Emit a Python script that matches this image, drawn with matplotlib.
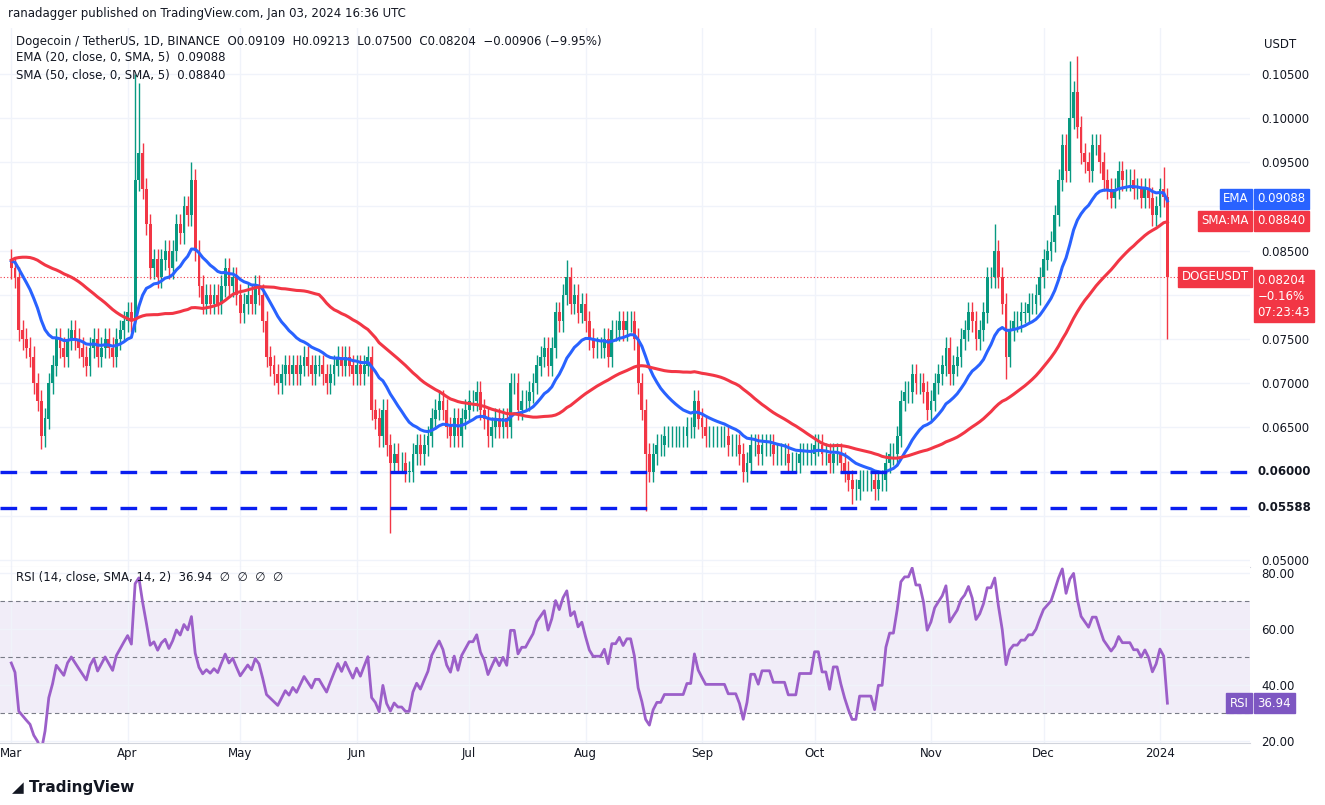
import numpy as np
import pandas as pd
import matplotlib
matplotlib.use("Agg")
import matplotlib.pyplot as plt
import matplotlib.dates as mdates

warmup = [0.070,0.071,0.072,0.073,0.074,0.075,0.076,0.077,0.078,0.079,0.080,0.082,0.083,0.084,0.085,0.084,0.086,0.087,0.088,0.089,
          0.090,0.091,0.092,0.091,0.090,0.092,0.093,0.092,0.091,0.090,0.089,0.088,0.087,0.086,0.085,0.084,0.083,0.082,0.083,0.082,
          0.081,0.082,0.083,0.084,0.083,0.082,0.083,0.084,0.083,0.084]
closes = [
 # Mar
 0.083,0.082,0.076,0.075,0.074,0.073,0.070,0.068,0.064,0.066,0.070,0.072,0.075,0.074,0.073,0.075,0.076,0.075,0.074,0.073,0.072,0.074,0.075,0.073,0.074,0.075,0.074,0.073,0.075,0.076,0.077,
 # Apr
 0.078,0.077,0.093,0.096,0.092,0.088,0.083,0.084,0.082,0.084,0.085,0.083,0.085,0.088,0.087,0.090,0.089,0.093,0.085,0.081,0.079,0.080,0.079,0.080,0.079,0.081,0.083,0.081,0.082,0.080,
 # May
 0.078,0.079,0.080,0.079,0.081,0.080,0.077,0.073,0.072,0.071,0.070,0.071,0.072,0.071,0.072,0.071,0.072,0.073,0.072,0.071,0.072,0.072,0.071,0.070,0.071,0.072,0.073,0.072,0.073,0.072,0.071,
 # Jun
 0.072,0.071,0.072,0.073,0.067,0.066,0.064,0.067,0.063,0.061,0.062,0.061,0.061,0.060,0.060,0.062,0.063,0.062,0.063,0.064,0.066,0.067,0.068,0.067,0.065,0.064,0.066,0.064,0.066,0.067,
 # Jul
 0.068,0.068,0.069,0.067,0.066,0.064,0.065,0.066,0.065,0.066,0.065,0.070,0.070,0.067,0.068,0.068,0.069,0.070,0.072,0.073,0.074,0.072,0.074,0.078,0.077,0.080,0.082,0.079,0.080,0.078,0.079,
 # Aug
 0.077,0.075,0.074,0.074,0.074,0.075,0.073,0.076,0.076,0.077,0.076,0.077,0.077,0.075,0.070,0.067,0.062,0.060,0.062,0.063,0.063,0.064,0.064,0.064,0.064,0.064,0.064,0.065,0.065,0.068,0.066,
 # Sep
 0.065,0.064,0.064,0.064,0.064,0.064,0.064,0.063,0.063,0.063,0.062,0.060,0.061,0.063,0.063,0.062,0.063,0.063,0.063,0.062,0.062,0.062,0.062,0.061,0.061,0.061,0.062,0.062,0.062,0.062,
 # Oct
 0.063,0.063,0.062,0.062,0.061,0.062,0.062,0.061,0.060,0.059,0.058,0.058,0.059,0.059,0.059,0.059,0.058,0.059,0.059,0.061,0.062,0.062,0.064,0.068,0.069,0.069,0.071,0.070,0.070,0.069,0.067,
 # Nov
 0.068,0.070,0.071,0.072,0.074,0.071,0.072,0.073,0.075,0.076,0.078,0.077,0.075,0.076,0.078,0.082,0.082,0.085,0.082,0.079,0.073,0.076,0.077,0.077,0.078,0.078,0.079,0.079,0.080,0.082,
 # Dec
 0.084,0.085,0.086,0.089,0.093,0.097,0.094,0.100,0.103,0.099,0.096,0.095,0.094,0.097,0.097,0.095,0.093,0.092,0.091,0.092,0.094,0.093,0.093,0.093,0.092,0.092,0.091,0.092,0.091,0.089,0.090,
 # Jan
 0.092,0.09109,0.08204]
high_over = {"2023-04-03":0.105,"2023-04-04":0.104,"2023-04-18":0.095,"2023-07-27":0.084,"2023-11-18":0.088,
             "2023-12-08":0.1065,"2023-12-10":0.107,"2024-01-03":0.09213,"2024-01-02":0.0945}
low_over = {"2023-03-09":0.0625,"2023-06-10":0.053,"2023-08-17":0.0555,"2023-10-11":0.0563,"2024-01-03":0.0750,"2023-11-21":0.0705}
sr_levels = [0.06, 0.05588]
month_labels = ["Mar","Apr","May","Jun","Jul","Aug","Sep","Oct","Nov","Dec","2024"]

dates_all = pd.date_range(end="2024-01-03", periods=len(warmup)+len(closes), freq="D")
s = pd.Series(warmup+closes, index=dates_all)
ema = s.ewm(span=20, adjust=False).mean()
sma = s.rolling(50, min_periods=1).mean()
d = s.diff()
up = d.clip(lower=0).ewm(alpha=1/14, adjust=False).mean()
dn = (-d.clip(upper=0)).ewm(alpha=1/14, adjust=False).mean()
rsi = 100 - 100/(1+up/dn)

n0 = len(warmup)
dates = dates_all[n0:]
c = np.array(closes)
o = np.array([s.iloc[n0-1]] + closes[:-1])
hi = np.maximum(o, c) + 0.0012
lo = np.minimum(o, c) - 0.0012
for k, v in high_over.items():
    hi[dates.get_loc(pd.Timestamp(k))] = v
for k, v in low_over.items():
    lo[dates.get_loc(pd.Timestamp(k))] = v

UP, DN = "#089981", "#f23645"
fig = plt.figure(figsize=(13.25, 8.05), dpi=100)
W, H = 1325, 805
ax = fig.add_axes([0, 1-567/H, 1250/W, (567-28)/H])
ax2 = fig.add_axes([0, 1-743/H, 1250/W, (743-567)/H], sharex=ax)
xn = mdates.date2num(dates)
cols = np.where(c >= o, UP, DN)
ax.vlines(xn, lo, hi, colors=cols, lw=1, zorder=2)
ax.bar(xn, np.abs(c-o)+1e-5, bottom=np.minimum(o, c), width=0.75, color=cols, zorder=3)
ax.plot(xn, ema.values[n0:], color="#2962ff", lw=2.2, zorder=4)
ax.plot(xn, sma.values[n0:], color="#f23645", lw=2.2, zorder=4)
for lv in sr_levels:
    ax.axhline(lv, color="#0a1ef0", lw=2.4, ls=(0, (5, 4)), zorder=5)
ax.axhline(c[-1], color=DN, lw=0.8, ls=(0, (1, 2)))
ax.set_ylim(0.0492, 0.1102)
xmin = mdates.date2num(pd.Timestamp("2023-02-26"))
xmax = mdates.date2num(pd.Timestamp("2024-01-25"))
ax.set_xlim(xmin, xmax)
ax.yaxis.tick_right()
ticks = np.arange(0.050, 0.1051, 0.005)
ax.set_yticks(ticks)
hidden = {"0.05500", "0.06000", "0.08000", "0.09000"}
ax.set_yticklabels([("" if f"{t:.5f}" in hidden else f"{t:.5f}") for t in ticks])
ax.grid(color="#f0f3fa", lw=1)
for a in (ax, ax2):
    for sp in a.spines.values():
        sp.set_visible(False)
    a.tick_params(length=0, labelsize=8.5, colors="#131722", pad=8)
ax.tick_params(labelbottom=False)
ax.spines["bottom"].set_visible(True); ax.spines["bottom"].set_color("#d1d4dc")

def tag(a, y, txt, fc, tc="white", weight="normal"):
    a.text(1.006, y, txt, transform=a.get_yaxis_transform(), fontsize=8.5, color=tc, va="center", ha="left",
           weight=weight, bbox=dict(boxstyle="square,pad=0.3", fc=fc, ec=fc))
tag(ax, 0.06, "0.06000", "white", "#131722", "bold")
tag(ax, 0.05588, "0.05588", "white", "#131722", "bold")
tag(ax, 0.09088, "0.09088", "#2962ff")
tag(ax, 0.08840, "0.08840", DN)
for y, t, fc in [(0.09088, "EMA", "#2962ff"), (0.08840, "SMA:MA", DN), (c[-1], "DOGEUSDT", DN)]:
    ax.text(0.999, y, t, transform=ax.get_yaxis_transform(), fontsize=8.5, color="white", ha="right", va="center",
            bbox=dict(boxstyle="square,pad=0.3", fc=fc, ec=fc))
ax.text(1.006, 0.0824, "0.08204\n−0.16%\n07:23:43", transform=ax.get_yaxis_transform(), fontsize=8.5, color="white",
        ha="left", va="top", linespacing=1.3, bbox=dict(boxstyle="square,pad=0.3", fc=DN, ec=DN))

# RSI
ax2.axhspan(30, 70, color="#7e57c2", alpha=0.1, lw=0)
for lv in (30, 50, 70):
    ax2.axhline(lv, color="#787b86", lw=0.8, ls=(0, (4, 3)))
ax2.plot(xn, rsi.values[n0:], color="#9c5fc9", lw=2)
ax2.set_ylim(19.3, 82.2)
ax2.yaxis.tick_right()
ax2.set_yticks([20, 40, 60, 80]); ax2.set_yticklabels(["20.00", "40.00", "60.00", "80.00"])
ax2.grid(color="#f0f3fa", lw=1)
ax2.spines["bottom"].set_visible(True); ax2.spines["bottom"].set_color("#d1d4dc")
tag(ax2, rsi.values[-1], "36.94", "#7e57c2")
ax2.text(0.999, rsi.values[-1], "RSI", transform=ax2.get_yaxis_transform(), fontsize=8.5, color="white", ha="right",
         va="center", bbox=dict(boxstyle="square,pad=0.3", fc="#7e57c2", ec="#7e57c2"))
mt = [pd.Timestamp(f"2023-{m:02d}-01") for m in range(3, 13)] + [pd.Timestamp("2024-01-01")]
ax2.set_xticks(mdates.date2num(mt))
ax2.set_xticklabels(month_labels)
ax2.tick_params(axis="x", pad=3)

fig.text(8/W, 1-14/H, "ranadagger published on TradingView.com, Jan 03, 2024 16:36 UTC", fontsize=8.5, color="#131722", va="center")
fig.text(16/W, 1-42/H, "Dogecoin / TetherUS, 1D, BINANCE  O0.09109  H0.09213  L0.07500  C0.08204  −0.00906 (−9.95%)",
         fontsize=8.5, color="#131722", va="center")
fig.text(16/W, 1-58/H, "EMA (20, close, 0, SMA, 5)  0.09088", fontsize=8.5, color="#131722", va="center")
fig.text(16/W, 1-75/H, "SMA (50, close, 0, SMA, 5)  0.08840", fontsize=8.5, color="#131722", va="center")
fig.text(16/W, 1-578/H, "RSI (14, close, SMA, 14, 2)  36.94  ∅  ∅  ∅  ∅", fontsize=8.5, color="#131722", va="center")
fig.text(1264/W, 1-44/H, "USDT", fontsize=8.5, color="#131722", va="center")
fig.text(12/W, 1-787/H, "◢ TradingView", fontsize=11, color="#131722", va="center", weight="bold")
fig.savefig("out.png", dpi=100, facecolor="white")
